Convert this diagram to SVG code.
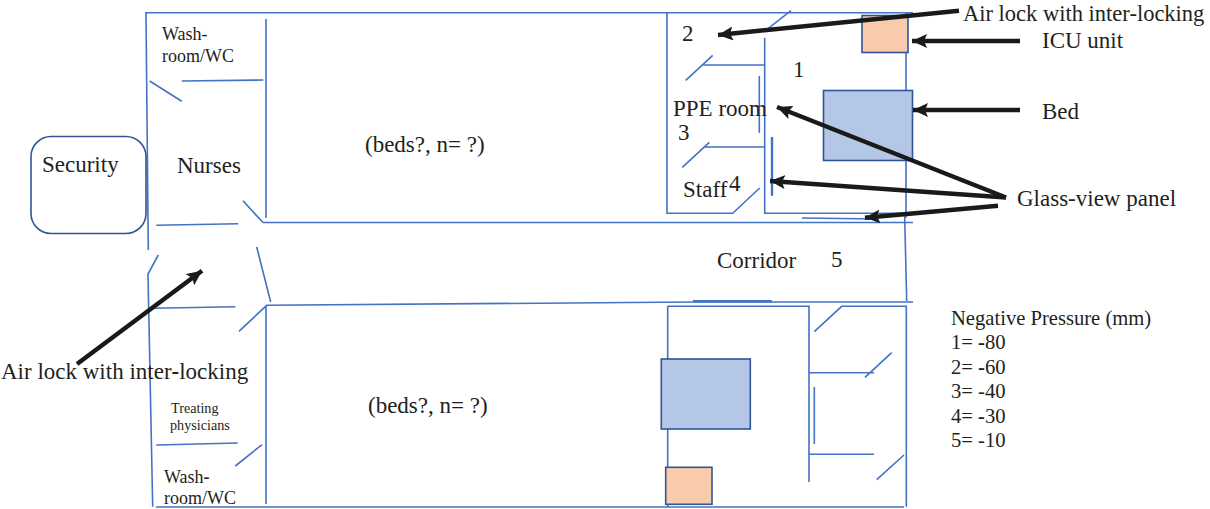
<svg xmlns="http://www.w3.org/2000/svg" width="1210" height="509" viewBox="0 0 1210 509">
<style>
.w{fill:none;stroke:#4472c4;stroke-width:1.6}
.t{fill:none;stroke:#4472c4;stroke-width:2.4}
.a{fill:none;stroke:#1a1a1a;stroke-width:4.5;marker-end:url(#ah)}
.bed{fill:#b4c7e7;stroke:#2f5597;stroke-width:1.6}
.icu{fill:#f8cbad;stroke:#2f5597;stroke-width:1.6}
text{font-family:"Liberation Serif","Times New Roman",serif;fill:#231f20;font-size:23px}
.s{font-size:18px}.xs{font-size:14.2px}.m{font-size:20.6px}.top{font-size:22.5px}
tspan{font-weight:bold}
</style>
<defs><marker id="ah" markerUnits="userSpaceOnUse" markerWidth="16" markerHeight="15" refX="15" refY="7" orient="auto"><path d="M0 0L15 7L0 14L3 7Z" fill="#1a1a1a"/></marker></defs>
<g id="walls">
<path class="w" d="M145 12.700H913M146 13L148.300 250M667 13V213.300H732.700L759.700 188M262.700 222.500H913"/>
<path class="w" d="M266 19V218M181.700 81L263.300 80M149.700 81L181.700 101.300M156.300 225.300L238.300 223.700M243 200.700L262.700 222.300M158.300 255L148 274L152.700 506.700M256.700 247L270.700 302M152.700 308.300L235.300 306.700M239 331.300L266.700 305.300L693 302H913M156.300 445L237.700 443M235.300 466L262 444.700M266 305.300V504M156 507H904"/>
<path class="w" d="M764.700 37.700V213.300H906M768.300 28.300L791 10.700M764.700 65H701.700M685.700 80.300L712.700 55.300M759.300 76V132.700M764.700 147H704M682.300 167.300L709.300 142.300M802 218L878 219M906 13V217L904.700 217L906.700 301"/>
<path class="t" d="M772 137V195.700M693 301.300H771.700"/>
<path class="w" d="M667.700 306.300V507M667.700 306.300H809V482M814.300 331.700L841.700 306.300H906.300V506.700M809 372.700H874M865 377.300L891.700 352.700M814.300 387V444M809 454.300H874M876.700 479.700L904 455"/>
</g>
<g id="security"><rect x="31" y="136.500" width="115" height="97" rx="20" fill="none" stroke="#2f5597" stroke-width="1.6"/><text x="42" y="171.500">Security</text></g>
<g id="bed-top"><rect class="bed" x="823.500" y="90.500" width="89" height="70"/></g>
<g id="icu-top"><rect class="icu" x="862" y="15.500" width="46" height="37"/></g>
<g id="bed-bottom"><rect class="bed" x="661.300" y="359" width="89" height="70"/></g>
<g id="icu-bottom"><rect class="icu" x="665.700" y="467.300" width="46.300" height="37"/></g>
<g id="connectors">
<path class="a" d="M959 10.700L718 35"/>
<path class="a" d="M1020 41H912"/>
<path class="a" d="M1020 110H913"/>
<path class="a" d="M1006 197.500L777 107"/>
<path class="a" d="M1006 197.500L770 181"/>
<path class="a" d="M998 205.700L865 217.700"/>
<path class="a" d="M77 364L202 270.700"/>
</g>
<g id="labels">
<text class="s" x="162" y="40">Wash-</text><text class="s" x="162" y="62">room/WC</text>
<text x="177" y="173">Nurses</text>
<text x="365" y="152">(beds?, n= ?)</text>
<text x="682" y="40.500">2</text><text x="793" y="77">1</text>
<text x="673" y="116">PPE room</text><text x="678" y="140">3</text>
<text x="683" y="197">Staff</text><text x="729" y="191">4</text>
<text x="717" y="268">Corridor</text><text x="831" y="267">5</text>
<text class="top" x="963" y="20.500">Air lock with inter-locking</text>
<text x="1042" y="48">ICU unit</text><text x="1042" y="119">Bed</text>
<text x="1017" y="206">Glass-view panel</text>
<text x="1" y="379">Air lock with inter<tspan>-</tspan>locking</text>
<text x="368" y="413">(beds?, n= ?)</text>
<text class="xs" x="171" y="413">Treating</text><text class="xs" x="170" y="430">physicians</text>
<text class="s" x="164" y="483">Wash<tspan>-</tspan></text><text class="s" x="164" y="504">room/WC</text>
<text class="m" x="951" y="325">Negative Pressure (mm)</text>
<text class="m" x="951" y="349">1= <tspan>-</tspan>80</text><text class="m" x="951" y="373.700">2= <tspan>-</tspan>60</text><text class="m" x="951" y="398">3= -40</text><text class="m" x="951" y="422.700">4= <tspan>-</tspan>30</text><text class="m" x="951" y="447">5= -10</text>
</g>
</svg>
